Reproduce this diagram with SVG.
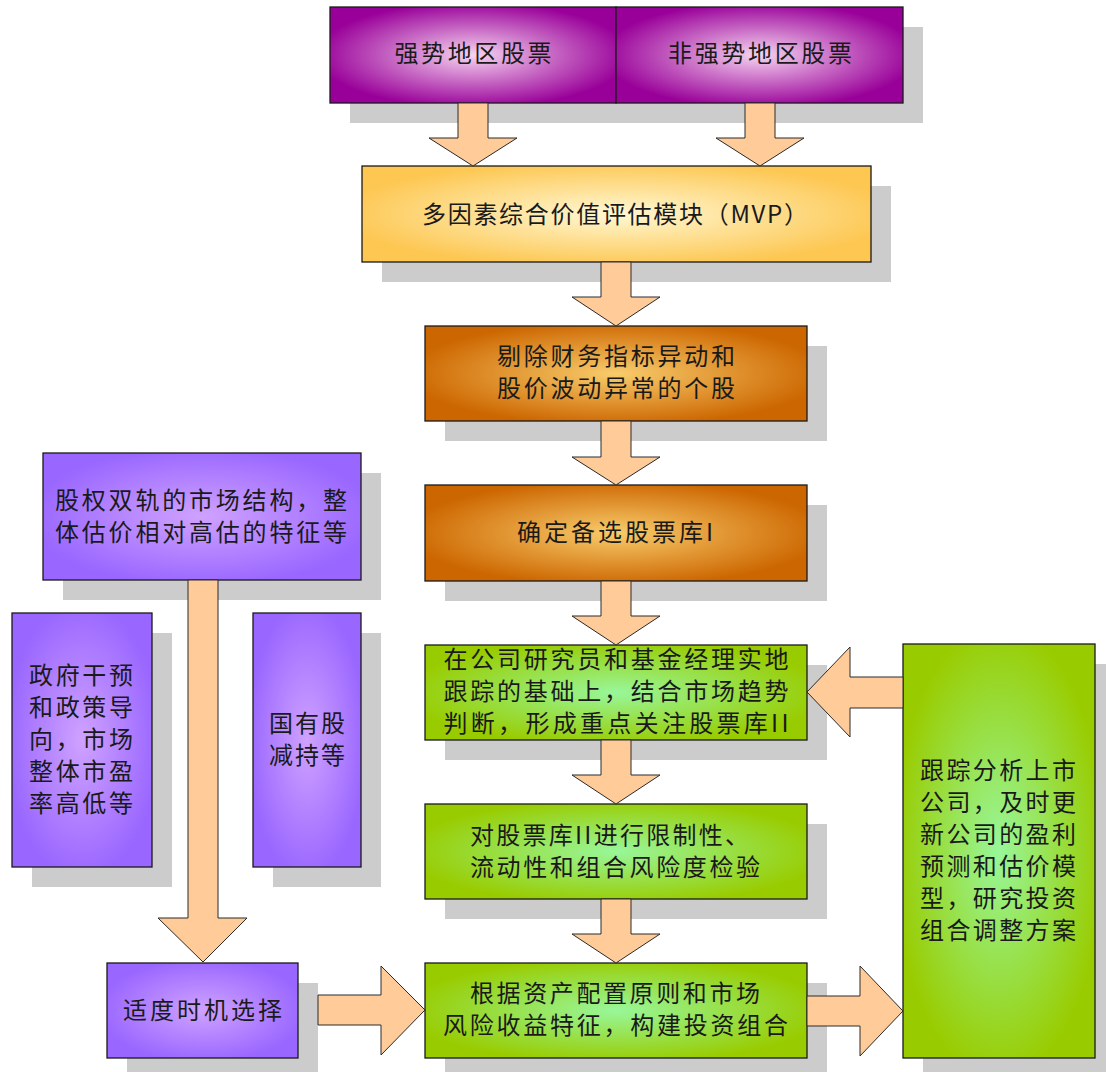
<svg xmlns="http://www.w3.org/2000/svg" width="1106" height="1072" viewBox="0 0 1106 1072">
<style>
.sh{fill:#cccccc}
.bx{stroke:#1a1a1a;stroke-width:1.3}
.ar{fill:#ffcc99;stroke:#2a2a2a;stroke-width:1}
.t{font-family:"Noto Sans CJK SC","Noto Sans CJK TC",sans-serif;font-size:24px;fill:#1a1a1a;text-anchor:middle}
</style>
<defs>
<radialGradient id="gPur" cx="0.5" cy="0.5" r="0.55"><stop offset="0" stop-color="#f6d4f0"/><stop offset="1" stop-color="#990099"/></radialGradient>
<radialGradient id="gGold" cx="0.5" cy="0.5" r="0.55"><stop offset="0" stop-color="#fff8d4"/><stop offset="1" stop-color="#fdc752"/></radialGradient>
<radialGradient id="gOr" cx="0.5" cy="0.5" r="0.55"><stop offset="0" stop-color="#f9cc6c"/><stop offset="1" stop-color="#cc6600"/></radialGradient>
<radialGradient id="gLav" cx="0.5" cy="0.5" r="0.55"><stop offset="0" stop-color="#cfa2ff"/><stop offset="1" stop-color="#9966ff"/></radialGradient>
<radialGradient id="gGrn" cx="0.5" cy="0.5" r="0.55"><stop offset="0" stop-color="#98f79a"/><stop offset="1" stop-color="#99cc00"/></radialGradient>
</defs>
<rect width="1106" height="1072" fill="#ffffff"/>

<g id="strong">
<rect class="sh" x="350" y="27" width="286" height="96"/>
<rect class="bx" x="330" y="7" width="286" height="96" fill="url(#gPur)"/>
<text class="t" x="473" y="62" textLength="157" lengthAdjust="spacing">强势地区股票</text>
</g>
<g id="nonstrong">
<rect class="sh" x="636" y="27" width="287" height="96"/>
<rect class="bx" x="616" y="7" width="287" height="96" fill="url(#gPur)"/>
<text class="t" x="760" y="62" textLength="184" lengthAdjust="spacing">非强势地区股票</text>
</g>
<g id="mvp">
<rect class="sh" x="382" y="186" width="509" height="96"/>
<rect class="bx" x="362" y="166" width="509" height="96" fill="url(#gGold)"/>
<text class="t" x="615" y="223" textLength="386" lengthAdjust="spacing">多因素综合价值评估模块（MVP）</text>
</g>
<g id="remove">
<rect class="sh" x="445" y="346" width="382" height="95"/>
<rect class="bx" x="425" y="326" width="382" height="95" fill="url(#gOr)"/>
<text class="t"><tspan x="616" y="365" textLength="238" lengthAdjust="spacing">剔除财务指标异动和</tspan><tspan x="616" y="397" textLength="238" lengthAdjust="spacing">股价波动异常的个股</tspan></text>
</g>
<g id="pool1">
<rect class="sh" x="445" y="505" width="382" height="96"/>
<rect class="bx" x="425" y="485" width="382" height="96" fill="url(#gOr)"/>
<text class="t" x="615" y="541" textLength="196" lengthAdjust="spacing">确定备选股票库I</text>
</g>
<g id="pool2">
<rect class="sh" x="445" y="665" width="382" height="95"/>
<rect class="bx" x="425" y="645" width="382" height="95" fill="url(#gGrn)"/>
<text class="t"><tspan x="616" y="668" textLength="345" lengthAdjust="spacing">在公司研究员和基金经理实地</tspan><tspan x="616" y="700" textLength="345" lengthAdjust="spacing">跟踪的基础上，结合市场趋势</tspan><tspan x="616" y="732" textLength="345" lengthAdjust="spacing">判断，形成重点关注股票库II</tspan></text>
</g>
<g id="check">
<rect class="sh" x="445" y="824" width="382" height="95"/>
<rect class="bx" x="425" y="804" width="382" height="95" fill="url(#gGrn)"/>
<text class="t"><tspan x="609.5" y="844" textLength="279" lengthAdjust="spacing">对股票库II进行限制性、</tspan><tspan x="615" y="876" textLength="290" lengthAdjust="spacing">流动性和组合风险度检验</tspan></text>
</g>
<g id="build">
<rect class="sh" x="445" y="983" width="382" height="95"/>
<rect class="bx" x="425" y="963" width="382" height="95" fill="url(#gGrn)"/>
<text class="t"><tspan x="615" y="1002" textLength="290" lengthAdjust="spacing">根据资产配置原则和市场</tspan><tspan x="615.5" y="1034" textLength="345" lengthAdjust="spacing">风险收益特征，构建投资组合</tspan></text>
</g>
<g id="track">
<rect class="sh" x="923" y="664" width="192" height="414"/>
<rect class="bx" x="903" y="644" width="192" height="414" fill="url(#gGrn)"/>
<text class="t"><tspan x="998" y="779" textLength="156" lengthAdjust="spacing">跟踪分析上市</tspan><tspan x="998" y="811" textLength="156" lengthAdjust="spacing">公司，及时更</tspan><tspan x="998" y="843" textLength="156" lengthAdjust="spacing">新公司的盈利</tspan><tspan x="998" y="875" textLength="156" lengthAdjust="spacing">预测和估价模</tspan><tspan x="998" y="907" textLength="156" lengthAdjust="spacing">型，研究投资</tspan><tspan x="998" y="939" textLength="156" lengthAdjust="spacing">组合调整方案</tspan></text>
</g>
<g id="structure">
<rect class="sh" x="63" y="473" width="318" height="127"/>
<rect class="bx" x="43" y="453" width="318" height="127" fill="url(#gLav)"/>
<text class="t"><tspan x="201" y="509" textLength="292" lengthAdjust="spacing">股权双轨的市场结构，整</tspan><tspan x="201" y="541" textLength="292" lengthAdjust="spacing">体估价相对高估的特征等</tspan></text>
</g>
<g id="policy">
<rect class="sh" x="32" y="633" width="140" height="254"/>
<rect class="bx" x="12" y="613" width="140" height="254" fill="url(#gLav)"/>
<text class="t"><tspan x="81" y="684" textLength="104" lengthAdjust="spacing">政府干预</tspan><tspan x="81" y="716" textLength="104" lengthAdjust="spacing">和政策导</tspan><tspan x="81" y="748" textLength="104" lengthAdjust="spacing">向，市场</tspan><tspan x="81" y="780" textLength="104" lengthAdjust="spacing">整体市盈</tspan><tspan x="81" y="812" textLength="104" lengthAdjust="spacing">率高低等</tspan></text>
</g>
<g id="stateshares">
<rect class="sh" x="273" y="633" width="108" height="254"/>
<rect class="bx" x="253" y="613" width="108" height="254" fill="url(#gLav)"/>
<text class="t"><tspan x="307" y="732" textLength="76" lengthAdjust="spacing">国有股</tspan><tspan x="307" y="764" textLength="76" lengthAdjust="spacing">减持等</tspan></text>
</g>
<g id="timing">
<rect class="sh" x="127" y="983" width="191" height="95"/>
<rect class="bx" x="107" y="963" width="191" height="95" fill="url(#gLav)"/>
<text class="t" x="202.5" y="1019" textLength="159" lengthAdjust="spacing">适度时机选择</text>
</g>

<g id="connectors">
<polygon class="ar" points="458,103 488,103 488,138 517,138 473,166 429,138 458,138"/>
<polygon class="ar" points="745,103 775,103 775,138 804,138 760,166 716,138 745,138"/>
<polygon class="ar" points="601,262 631,262 631,297 660,297 616,326 572,297 601,297"/>
<polygon class="ar" points="601,421 631,421 631,457 660,457 616,485 572,457 601,457"/>
<polygon class="ar" points="601,581 631,581 631,616 660,616 616,645 572,616 601,616"/>
<polygon class="ar" points="601,740 631,740 631,775 660,775 616,804 572,775 601,775"/>
<polygon class="ar" points="601,899 631,899 631,934 660,934 616,963 572,934 601,934"/>
<polygon class="ar" points="188,580 218,580 218,918 247,918 203,962 158,918 188,918"/>
<polygon class="ar" points="903,677 850,677 850,647 807,692 850,737 850,708 903,708"/>
<polygon class="ar" points="318,995 381,995 381,966 425,1010 381,1055 381,1025 318,1025"/>
<polygon class="ar" points="807,996 860,996 860,966 903,1011 860,1056 860,1026 807,1026"/>
</g>
</svg>
